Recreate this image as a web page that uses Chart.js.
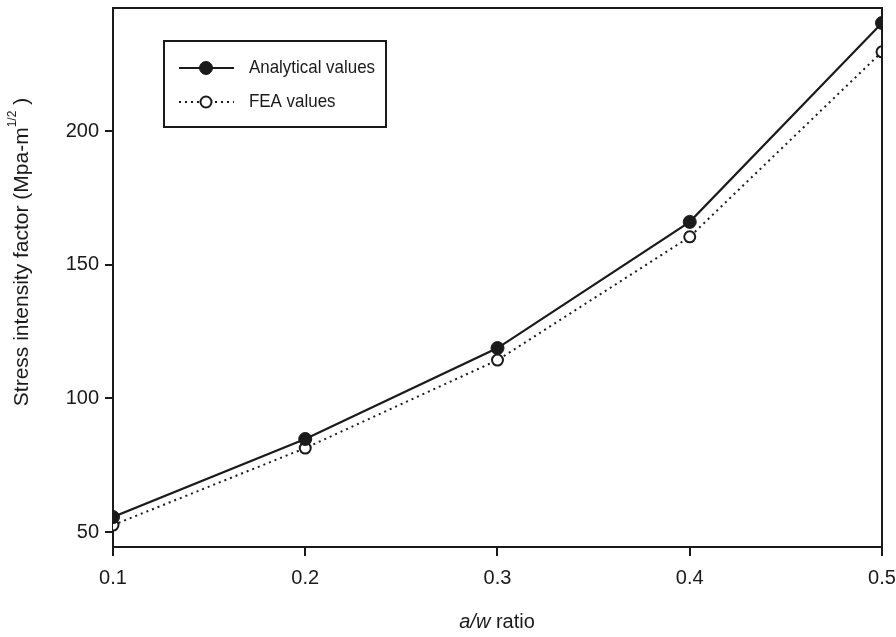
<!DOCTYPE html>
<html>
<head>
<meta charset="utf-8">
<script src="https://cdn.jsdelivr.net/npm/chart.js@4.4.1/dist/chart.umd.min.js"></script>
<style>
html,body{margin:0;padding:0;background:#fff;}
#wrap{width:896px;height:637px;}
</style>
</head>
<body>
<div id="wrap"><canvas id="c" width="896" height="637"></canvas></div>
<script>
// ---- data ----
const awRatio = [0.1, 0.2, 0.3, 0.4, 0.5];
const analyticalValues = [55.6, 84.8, 118.8, 166.0, 240.4];
const feaValues = [52.6, 81.4, 114.3, 160.4, 229.6];
const xTickValues = [0.1, 0.2, 0.3, 0.4, 0.5];
const yTickValues = [50, 100, 150, 200];
const seriesNames = ['Analytical values', 'FEA values'];
const yTitleMain = 'Stress intensity factor (Mpa-m';
const yTitleSup = '1/2';
const yTitleEnd = ')';
const xTitleItalic = 'a/w';
const xTitleRest = ' ratio';

const FONT = '"Liberation Sans", Arial, sans-serif';
const INK = '#1a1a1a';

const toPts = arr => arr.map((v, i) => ({x: awRatio[i], y: v}));

const framePlugin = {
  id: 'frame',
  afterDatasetsDraw(chart) {
    const {ctx, chartArea: a} = chart;
    ctx.save();
    ctx.strokeStyle = INK;
    ctx.lineWidth = 2;
    ctx.beginPath();
    ctx.moveTo(a.left, a.top);
    ctx.lineTo(a.right, a.top);
    ctx.lineTo(a.right, a.bottom);
    ctx.stroke();
    ctx.restore();
  }
};

const titlesPlugin = {
  id: 'titles',
  afterDraw(chart) {
    const ctx = chart.ctx;
    ctx.save();
    ctx.fillStyle = INK;
    ctx.textBaseline = 'middle';
    ctx.translate(22, 252);
    ctx.rotate(-Math.PI / 2);
    const big = '21px ' + FONT, small = '12px ' + FONT;
    ctx.font = big;
    const w1 = ctx.measureText(yTitleMain).width;
    const w3 = ctx.measureText(' ' + yTitleEnd).width;
    ctx.font = small;
    const w2 = ctx.measureText(yTitleSup).width;
    let x = -(w1 + w2 + w3) / 2;
    ctx.textAlign = 'left';
    ctx.font = big;
    ctx.fillText(yTitleMain, x, 0);
    x += w1;
    ctx.font = small;
    ctx.fillText(yTitleSup, x, -9);
    x += w2;
    ctx.font = big;
    ctx.fillText(' ' + yTitleEnd, x, 0);
    ctx.restore();

    ctx.save();
    ctx.fillStyle = INK;
    ctx.textBaseline = 'middle';
    ctx.textAlign = 'left';
    const it = 'italic 20px ' + FONT;
    const nb = '20px ' + FONT;
    ctx.font = it;
    const a1 = ctx.measureText(xTitleItalic).width;
    ctx.font = nb;
    const a2 = ctx.measureText(xTitleRest).width;
    let xx = 497 - (a1 + a2) / 2;
    ctx.font = it;
    ctx.fillText(xTitleItalic, xx, 622);
    ctx.font = nb;
    ctx.fillText(xTitleRest, xx + a1, 622);
    ctx.restore();
  }
};

const legendPlugin = {
  id: 'boxLegend',
  afterDraw(chart) {
    const ctx = chart.ctx;
    ctx.save();
    ctx.strokeStyle = INK;
    ctx.lineWidth = 2;
    ctx.strokeRect(164, 41, 222, 86);
    const rows = [
      {y: 68, ds: chart.data.datasets[0]},
      {y: 102, ds: chart.data.datasets[1]}
    ];
    ctx.font = '19px ' + FONT;
    const refW = ctx.measureText(rows[0].ds.label).width;
    const sx = Math.min(1, 126 / refW);
    rows.forEach(r => {
      const ds = r.ds;
      ctx.save();
      ctx.strokeStyle = ds.borderColor;
      ctx.lineWidth = ds.borderWidth;
      ctx.setLineDash(ds.borderDash || []);
      ctx.beginPath();
      ctx.moveTo(179, r.y);
      ctx.lineTo(234, r.y);
      ctx.stroke();
      ctx.setLineDash([]);
      ctx.beginPath();
      ctx.arc(206, r.y, ds.pointRadius, 0, Math.PI * 2);
      ctx.fillStyle = ds.pointBackgroundColor;
      ctx.fill();
      ctx.lineWidth = ds.pointBorderWidth;
      ctx.strokeStyle = ds.pointBorderColor;
      ctx.stroke();
      ctx.restore();
      ctx.save();
      ctx.fillStyle = INK;
      ctx.font = '19px ' + FONT;
      ctx.textAlign = 'left';
      ctx.textBaseline = 'middle';
      ctx.translate(249, r.y);
      ctx.scale(sx, 1);
      ctx.fillText(ds.label, 0, 0);
      ctx.restore();
    });
    ctx.restore();
  }
};

new Chart(document.getElementById('c'), {
  type: 'line',
  data: {
    datasets: [
      {
        label: seriesNames[0],
        data: toPts(analyticalValues),
        borderColor: INK,
        borderWidth: 2.2,
        pointRadius: 6.5,
        pointBackgroundColor: INK,
        pointBorderColor: INK,
        pointBorderWidth: 1,
        tension: 0
      },
      {
        label: seriesNames[1],
        data: toPts(feaValues),
        borderColor: INK,
        borderWidth: 2,
        borderDash: [2, 4],
        pointRadius: 5.5,
        pointBackgroundColor: '#ffffff',
        pointBorderColor: INK,
        pointBorderWidth: 2,
        tension: 0
      }
    ]
  },
  options: {
    responsive: false,
    animation: false,
    devicePixelRatio: 1,
    layout: {padding: {top: 8, right: 14, left: 0, bottom: 0}},
    plugins: {legend: {display: false}, tooltip: {enabled: false}},
    scales: {
      x: {
        type: 'linear',
        min: 0.1,
        max: 0.5,
        afterFit: s => { s.height = 90; s.paddingLeft = 0; s.paddingRight = 0; },
        afterBuildTicks: s => { s.ticks = xTickValues.map(v => ({value: v})); },
        ticks: {
          callback: v => Number(v).toFixed(1),
          font: {family: FONT, size: 20},
          color: INK,
          padding: 10,
          maxRotation: 0
        },
        grid: {drawOnChartArea: false, tickLength: 9, color: INK, lineWidth: 2},
        border: {color: INK, width: 2}
      },
      y: {
        type: 'linear',
        min: 44.4,
        max: 246,
        afterFit: s => { s.width = 113; s.paddingTop = 0; s.paddingBottom = 0; },
        afterBuildTicks: s => { s.ticks = yTickValues.map(v => ({value: v})); },
        ticks: {
          font: {family: FONT, size: 20},
          color: INK,
          padding: 6
        },
        grid: {drawOnChartArea: false, tickLength: 8, color: INK, lineWidth: 2},
        border: {color: INK, width: 2}
      }
    }
  },
  plugins: [framePlugin, titlesPlugin, legendPlugin]
});
</script>
</body>
</html>
